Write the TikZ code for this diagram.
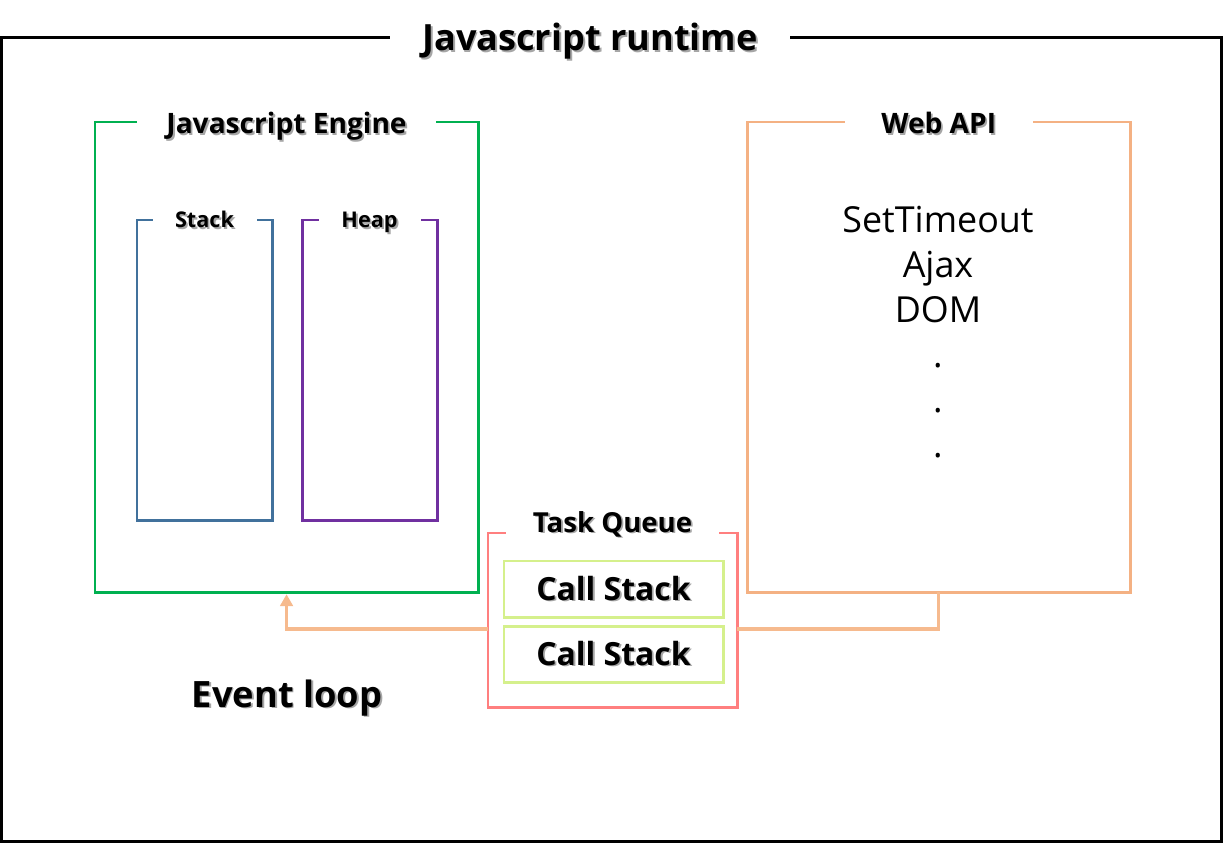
\documentclass[tikz,border=0pt]{standalone}
\usepackage{fontspec}
\setmainfont{Open Sans}
\usetikzlibrary{positioning, arrows.meta}
\definecolor{enginegreen}{HTML}{00B050}
\definecolor{stackblue}{HTML}{41719C}
\definecolor{heappurple}{HTML}{7030A0}
\definecolor{apiorange}{HTML}{F4B183}
\definecolor{queuered}{HTML}{FF7F7F}
\definecolor{callgreen}{HTML}{D5F08C}
\definecolor{looporange}{HTML}{F6BA8E}
\newcommand{\shadowtext}[1]{\leavevmode\rlap{\kern1.3pt\raisebox{-1.3pt}{\textcolor{black!35}{#1}}}#1}

\begin{document}
\begin{tikzpicture}[x=0.025cm, y=-0.025cm, every node/.style={outer sep=0pt},
    frame/.style={draw, line width=2.1pt, inner sep=0pt},
    title/.style={fill=white, inner xsep=0pt, inner ysep=2pt, anchor=base},
    loop arrow/.style={draw=looporange, line width=2.3pt}]
    \useasboundingbox (0,0) rectangle (1224,843);
    % boxes
    \node[frame, line width=2.3pt, minimum width=30.5cm, minimum height=20.1cm, anchor=north west] (runtime) at (1.5,37.5) {};
    \node[frame, draw=enginegreen, minimum width=9.575cm, minimum height=11.75cm, anchor=north west] (engine) at (95,122) {};
    \node[frame, draw=stackblue, minimum width=3.375cm, minimum height=7.5cm, anchor=north west] (stack) at (137,220) {};
    \node[frame, draw=heappurple, minimum width=3.375cm, minimum height=7.5cm, right=0.75cm of stack] (heap) {};
    \node[frame, draw=apiorange, minimum width=9.575cm, minimum height=11.75cm, right=6.725cm of engine] (webapi) {};
    \node[frame, draw=queuered, minimum width=6.225cm, minimum height=4.35cm, anchor=north west] (queue) at (488,533) {};
    \node[frame, draw=callgreen, minimum width=5.475cm, minimum height=1.4cm, anchor=north west, font=\bfseries\fontsize{22.7}{26}\selectfont] (call1) at (504,561) {\shadowtext{Call Stack}};
    \node[frame, draw=callgreen, minimum width=5.475cm, minimum height=1.4cm, below=0.225cm of call1, font=\bfseries\fontsize{22.7}{26}\selectfont] (call2) {\shadowtext{Call Stack}};
    % titles
    \node[title, minimum width=10cm, yshift=-9.2pt, font=\bfseries\fontsize{25.7}{30}\selectfont] (runtimetitle) at (590,37.5) {\shadowtext{Javascript runtime}};
    \node[title, minimum width=7.475cm, yshift=-8.5pt, font=\bfseries\fontsize{20}{24}\selectfont] (enginetitle) at (engine.north) {\shadowtext{Javascript Engine}};
    \node[title, minimum width=4.7cm, yshift=-8.5pt, font=\bfseries\fontsize{20}{24}\selectfont] (webapititle) at (webapi.north) {\shadowtext{Web API}};
    \node[title, minimum width=2.6cm, yshift=-5.5pt, font=\bfseries\fontsize{15.4}{18}\selectfont] (stacktitle) at (stack.north) {\shadowtext{Stack}};
    \node[title, minimum width=2.55cm, yshift=-5.5pt, font=\bfseries\fontsize{15.4}{18}\selectfont] (heaptitle) at (heap.north) {\shadowtext{Heap}};
    \node[title, minimum width=5.325cm, yshift=0.7pt, font=\bfseries\fontsize{19.6}{23}\selectfont] (queuetitle) at (queue.north) {\shadowtext{Task Queue}};
    % texts
    \node[inner sep=0pt, anchor=north, align=center, font=\fontsize{25.5}{32}\selectfont] (apilist) at (938,206) {SetTimeout\\Ajax\\DOM\\.\\.\\.};
    \node[anchor=base, inner sep=0pt, font=\bfseries\fontsize{25.8}{30}\selectfont] (eventloop) at (287,707) {\shadowtext{Event loop}};
    % event loop
    \draw[loop arrow] (webapi.south) |- ([yshift=-0.225cm]queue.east);
    \draw[loop arrow, -{Triangle[width=9pt,length=8.5pt]}, shorten >=1.5pt] ([yshift=-0.225cm]queue.west) -| (engine.south);
\end{tikzpicture}
\end{document}
